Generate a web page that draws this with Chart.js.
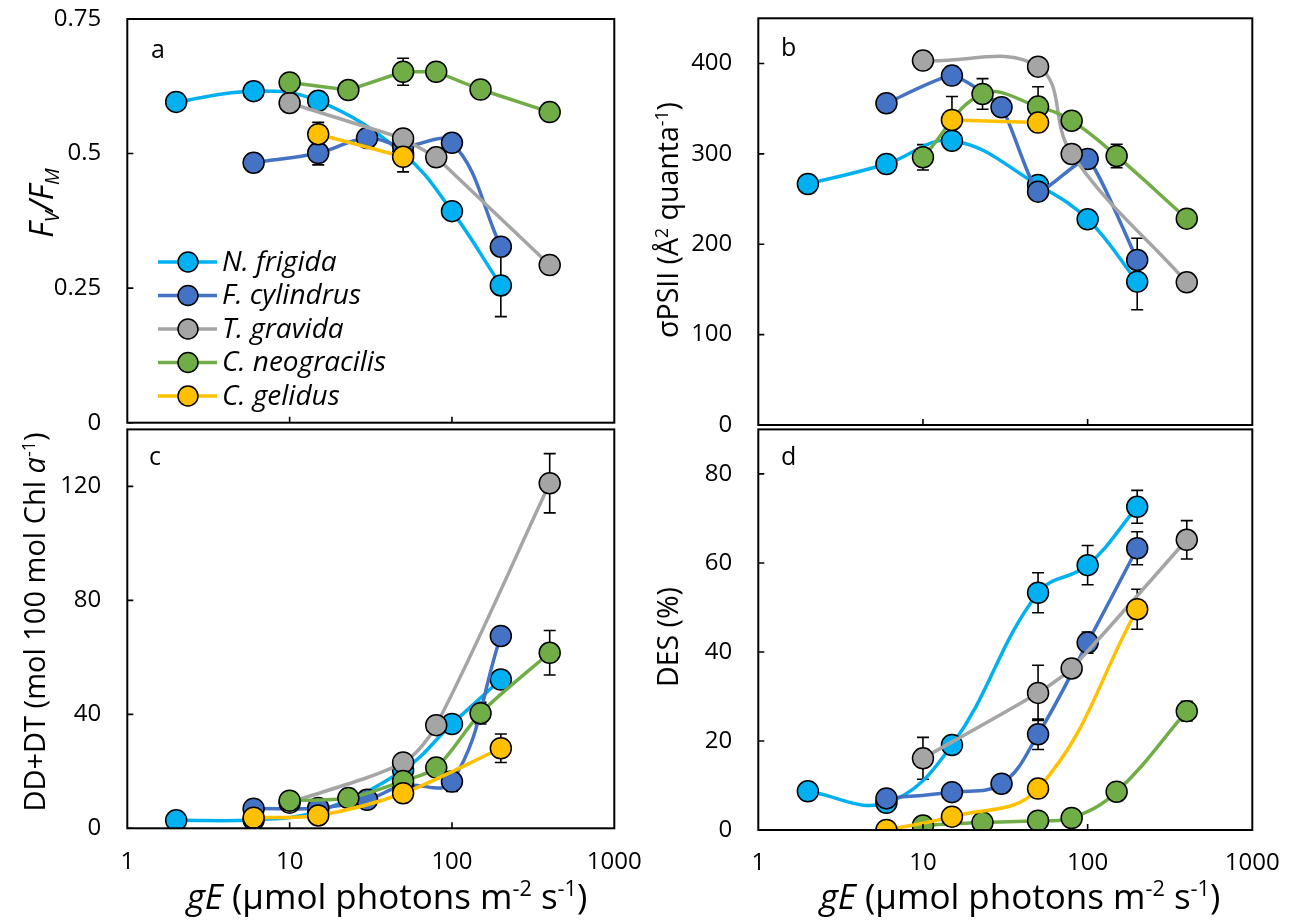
<!DOCTYPE html>
<html><head><meta charset="utf-8">
<script src="https://cdn.jsdelivr.net/npm/chart.js@4.4.0/dist/chart.umd.min.js"></script>
<style>
html,body{margin:0;padding:0;background:#fff;width:1291px;height:924px;overflow:hidden;}
canvas{position:absolute;}
</style></head><body>
<canvas id="ca" width="650" height="440" style="left:0;top:0"></canvas>
<canvas id="cb" width="641" height="440" style="left:650px;top:0"></canvas>
<canvas id="cc" width="650" height="509" style="left:0;top:415px"></canvas>
<canvas id="cd" width="641" height="509" style="left:650px;top:415px"></canvas>
<script>
// ---------- data ----------
const species = ['N. frigida', 'F. cylindrus', 'T. gravida', 'C. neogracilis', 'C. gelidus'];
const colors = ['#00B0F0', '#4472C4', '#A5A5A5', '#70AD47', '#FFC000'];

// light levels (gE, µmol photons m-2 s-1) per species
const lightNf = [2, 6, 15, 50, 100, 200];
const lightFc = [6, 15, 30, 50, 100, 200];
const lightTg = [10, 50, 80, 400];
const lightCn = [10, 23, 50, 80, 150, 400];
const lightCg = [6, 15, 50, 200];

// x-axis tick values and labelled ticks
const xTickVals = [1, 5, 10, 15, 20, 25, 30, 35, 40, 45, 100, 250, 500, 750, 1000];
const xLabelVals = [1, 10, 100, 1000];

// (a) Fv/Fm
const fvfmNf = [0.596, 0.616, 0.598, 0.500, 0.393, 0.255];
const fvfmFc = [0.483, 0.501, 0.529, 0.514, 0.520, 0.327];
const fvfmTg = [0.594, 0.528, 0.493, 0.293];
const fvfmCn = [0.632, 0.618, 0.652, 0.652, 0.619, 0.577];
const fvfmCg = [null, 0.536, 0.494, null];
const fvfmErrNf = [0, 0, 0, 0, 0, 0.058];
const fvfmErrFc = [0, 0.022, 0, 0, 0, 0];
const fvfmErrTg = [0, 0, 0, 0];
const fvfmErrCn = [0, 0, 0.025, 0, 0, 0];
const fvfmErrCg = [0, 0.022, 0.028, 0];

// (b) sigma PSII
const sigNf = [266.7, 288.8, 314.6, 265.6, 227.6, 158.6];
const sigFc = [356.0, 386.6, 351.5, 258.2, 294.3, 182.6];
const sigTg = [403.2, 396.5, 299.9, 157.9];
const sigCn = [296.2, 366.3, 352.3, 336.7, 297.7, 228.3];
const sigCg = [null, 337.5, 334.6, null];
const sigErrNf = [0, 0, 0, 0, 0, 31];
const sigErrFc = [0, 0, 0, 0, 0, 24];
const sigErrTg = [0, 0, 0, 0];
const sigErrCn = [14, 17, 22, 0, 13, 0];
const sigErrCg = [0, 26, 0, 0];

// (c) DD+DT
const ddtNf = [2.8, 3.0, 6.0, 20.4, 36.6, 52.2];
const ddtFc = [6.9, 7.1, 10.0, 15.0, 16.4, 67.5];
const ddtTg = [9.0, 23.1, 36.2, 121.1];
const ddtCn = [9.7, 10.6, 16.6, 21.3, 40.4, 61.6];
const ddtCg = [3.7, 4.5, 12.3, 28.1];
const ddtErrNf = [0, 0, 0, 0, 0, 0];
const ddtErrFc = [0, 0, 0, 0, 3.5, 0];
const ddtErrTg = [0, 0, 0, 10.4];
const ddtErrCn = [0, 0, 0, 0, 3.8, 7.8];
const ddtErrCg = [0, 0, 0, 5.0];

// (d) DES %
const desNf = [8.7, 6.1, 19.1, 53.3, 59.5, 72.6];
const desFc = [7.1, 8.5, 10.4, 21.5, 42.1, 63.3];
const desTg = [16.1, 30.8, 36.3, 65.2];
const desCn = [1.0, 1.7, 2.1, 2.7, 8.6, 26.7];
const desCg = [0.0, 3.0, 9.3, 49.6];
const desErrNf = [0, 0, 0, 4.5, 4.4, 3.7];
const desErrFc = [0, 0, 1.0, 3.4, 2.4, 3.7];
const desErrTg = [4.7, 6.2, 0, 4.3];
const desErrCn = [0, 0, 0, 0, 0, 2.2];
const desErrCg = [0, 0, 0, 4.5];

const lights = [lightNf, lightFc, lightTg, lightCn, lightCg];

// ---------- helpers ----------
const FONT = '"Open Sans", Lato, sans-serif';
Chart.defaults.font.family = FONT;
Chart.defaults.font.size = 24;
Chart.defaults.color = '#000';

function drawRich(ctx, segs, cx, cy, rot, size) {
  ctx.save();
  ctx.translate(cx, cy);
  ctx.rotate(rot);
  ctx.fillStyle = '#000';
  ctx.textBaseline = 'alphabetic';
  ctx.textAlign = 'left';
  const parts = segs.map(s => {
    const fs = (s.sup || s.sub) ? size * 0.62 : size;
    const font = (s.i ? 'italic ' : '') + fs + 'px ' + FONT;
    ctx.font = font;
    return {s, font, w: ctx.measureText(s.t).width};
  });
  const total = parts.reduce((a, p) => a + p.w, 0);
  let x = -total / 2;
  const base = size * 0.36;
  for (const p of parts) {
    ctx.font = p.font;
    const dy = p.s.sup ? -size * 0.36 : (p.s.sub ? size * 0.2 : 0);
    ctx.fillText(p.s.t, x, base + dy);
    x += p.w;
  }
  ctx.restore();
}

function deco(cfg) {
  return {
    id: 'deco',
    beforeDatasetsDraw(chart) {
      const ctx = chart.ctx, ys = chart.scales.y;
      ctx.save();
      ctx.strokeStyle = '#000';
      ctx.lineWidth = 1.6;
      chart.data.datasets.forEach((ds, i) => {
        const meta = chart.getDatasetMeta(i);
        ds.errors.forEach((e, j) => {
          const v = ds.data[j].y;
          if (!e || v === null) return;
          const x = meta.data[j].x;
          const y1 = ys.getPixelForValue(v + e), y2 = ys.getPixelForValue(v - e);
          ctx.beginPath();
          ctx.moveTo(x, y1); ctx.lineTo(x, y2);
          ctx.moveTo(x - 6, y1); ctx.lineTo(x + 6, y1);
          ctx.moveTo(x - 6, y2); ctx.lineTo(x + 6, y2);
          ctx.stroke();
        });
      });
      ctx.restore();
    },
    afterDraw(chart) {
      const ctx = chart.ctx, a = chart.chartArea, xs = chart.scales.x, ys = chart.scales.y;
      ctx.save();
      ctx.strokeStyle = '#000';
      ctx.lineWidth = 1.6;
      // inward tick marks
      ctx.beginPath();
      xs.ticks.forEach(t => {
        const px = xs.getPixelForValue(t.value);
        if (px <= a.left + 1 || px >= a.right - 1) return;
        ctx.moveTo(px, a.bottom); ctx.lineTo(px, a.bottom - 6);
      });
      ys.ticks.forEach(t => {
        const py = ys.getPixelForValue(t.value);
        if (py <= a.top + 1) return;
        ctx.moveTo(a.left, py); ctx.lineTo(a.left + 6, py);
      });
      ctx.stroke();
      // frame
      ctx.lineWidth = 2;
      ctx.strokeRect(a.left, a.top, a.right - a.left, a.bottom - a.top);
      // panel letter
      ctx.fillStyle = '#000';
      ctx.font = '25px ' + FONT;
      ctx.textBaseline = 'alphabetic';
      ctx.textAlign = 'left';
      ctx.fillText(cfg.letter, cfg.letterX, cfg.letterY);
      ctx.restore();
      // titles
      drawRich(ctx, cfg.yTitle, cfg.yTitleX, cfg.yTitleY, -Math.PI / 2, cfg.yTitleSize);
      if (cfg.xTitle) drawRich(ctx, cfg.xTitle, cfg.xTitleX, cfg.xTitleY, 0, 35);
      // legend
      if (cfg.legend) {
        ctx.save();
        species.forEach((name, i) => {
          const y = cfg.legendY[i];
          ctx.strokeStyle = colors[i];
          ctx.lineWidth = 3.5;
          ctx.beginPath(); ctx.moveTo(158, y); ctx.lineTo(217, y); ctx.stroke();
          ctx.beginPath(); ctx.arc(188, y, 10, 0, Math.PI * 2);
          ctx.fillStyle = colors[i]; ctx.fill();
          ctx.strokeStyle = '#000'; ctx.lineWidth = 1.5; ctx.stroke();
          ctx.fillStyle = '#000';
          ctx.font = 'italic 28px ' + FONT;
          ctx.textBaseline = 'middle';
          ctx.fillText(name, 222, y + 1);
        });
        ctx.restore();
      }
    }
  };
}

function makeChart(id, cfg) {
  const datasets = cfg.values.map((vals, i) => ({
    label: species[i],
    data: lights[i].map((x, j) => ({x: x, y: vals[j]})),
    errors: cfg.errors[i],
    borderColor: colors[i],
    backgroundColor: colors[i],
    pointBackgroundColor: colors[i],
    pointBorderColor: '#000',
    pointBorderWidth: 1.5,
    pointRadius: 10.5,
    borderWidth: 3.5,
    borderCapStyle: 'round',
    borderJoinStyle: 'round',
    tension: cfg.tension[i],
    order: 4 - i
  }));
  const yStep = cfg.yStep, yLab = cfg.yLabelStep;
  const hiddenTick = {display: true, drawOnChartArea: false, drawTicks: true, tickColor: 'rgba(0,0,0,0)'};
  return new Chart(document.getElementById(id), {
    type: 'line',
    data: {datasets},
    plugins: [deco(cfg)],
    options: {
      responsive: false,
      animation: false,
      devicePixelRatio: 1,
      events: [],
      layout: {padding: cfg.pad},
      plugins: {legend: {display: false}, tooltip: {enabled: false}},
      scales: {
        x: {
          type: 'logarithmic', min: 1, max: 1000,
          border: {display: false},
          grid: Object.assign({tickLength: 19}, hiddenTick),
          afterBuildTicks: s => { s.ticks = xTickVals.map(v => ({value: v})); },
          afterFit: s => { s.height = cfg.xH; },
          ticks: {
            display: cfg.showX, autoSkip: false, maxRotation: 0, padding: 0,
            callback: v => xLabelVals.includes(v) ? String(v) : null
          }
        },
        y: {
          type: 'linear', min: 0, max: cfg.yMax,
          border: {display: false},
          grid: Object.assign({tickLength: 26}, hiddenTick),
          afterFit: s => { s.width = cfg.yW; },
          ticks: {
            stepSize: yStep, autoSkip: false, padding: 0,
            callback: v => {
              const r = v / yLab;
              if (Math.abs(r - Math.round(r)) > 1e-6) return null;
              if (v > cfg.yLabelMax + 1e-9) return null;
              return String(Math.round(v * 1000) / 1000);
            }
          }
        }
      }
    }
  });
}

const xTitleSegs = [{t: 'gE', i: 1}, {t: ' (\u00b5mol photons m'}, {t: '-2', sup: 1}, {t: ' s'}, {t: '-1', sup: 1}, {t: ')'}];

makeChart('ca', {
  values: [fvfmNf, fvfmFc, fvfmTg, fvfmCn, fvfmCg],
  errors: [fvfmErrNf, fvfmErrFc, fvfmErrTg, fvfmErrCn, fvfmErrCg],
  tension: [0.4, 0.4, 0, 0, 0],
  yMax: 0.75, yStep: 0.125, yLabelStep: 0.25, yLabelMax: 0.75,
  yW: 127.3, xH: 17.3, pad: {top: 19, right: 35.7, bottom: 0, left: 0},
  showX: false,
  letter: 'a', letterX: 151, letterY: 58,
  yTitle: [{t: 'F', i: 1}, {t: 'V', i: 1, sub: 1}, {t: '/', i: 1}, {t: 'F', i: 1}, {t: 'M', i: 1, sub: 1}],
  yTitleX: 41, yTitleY: 203, yTitleSize: 32,
  legend: true, legendY: [262, 295.5, 329, 362.5, 396]
});
makeChart('cb', {
  values: [sigNf, sigFc, sigTg, sigCn, sigCg],
  errors: [sigErrNf, sigErrFc, sigErrTg, sigErrCn, sigErrCg],
  tension: [0.4, 0.15, 0.4, 0.4, 0],
  yMax: 450, yStep: 50, yLabelStep: 100, yLabelMax: 400,
  yW: 108.3, xH: 15, pad: {top: 18.3, right: 38.7, bottom: 0, left: 0},
  showX: false,
  letter: 'b', letterX: 131, letterY: 56,
  yTitle: [{t: '\u03c3PSII (\u00c5'}, {t: '2', sup: 1}, {t: ' quanta'}, {t: '-1', sup: 1}, {t: ')'}],
  yTitleX: 18, yTitleY: 220, yTitleSize: 28.5
});
makeChart('cc', {
  values: [ddtNf, ddtFc, ddtTg, ddtCn, ddtCg],
  errors: [ddtErrNf, ddtErrFc, ddtErrTg, ddtErrCn, ddtErrCg],
  tension: [0.4, 0.4, 0.3, 0.3, 0.3],
  yMax: 140, yStep: 20, yLabelStep: 40, yLabelMax: 120,
  yW: 127.3, xH: 95.7, pad: {top: 8, right: 35.7, bottom: 0, left: 0},
  showX: true,
  letter: 'c', letterX: 149, letterY: 50,
  yTitle: [{t: 'DD+DT (mol 100 mol Chl '}, {t: 'a', i: 1}, {t: '-1', sup: 1}, {t: ')'}],
  yTitleX: 35, yTitleY: 207, yTitleSize: 29,
  xTitle: xTitleSegs, xTitleX: 387, xTitleY: 481
});
makeChart('cd', {
  values: [desNf, desFc, desTg, desCn, desCg],
  errors: [desErrNf, desErrFc, desErrTg, desErrCn, desErrCg],
  tension: [0.4, 0.4, 0.2, 0.4, 0.4],
  yMax: 90, yStep: 10, yLabelStep: 20, yLabelMax: 80,
  yW: 108.3, xH: 94, pad: {top: 10, right: 38.7, bottom: 0, left: 0},
  showX: true,
  letter: 'd', letterX: 131, letterY: 50,
  yTitle: [{t: 'DES (%)'}],
  yTitleX: 18, yTitleY: 222, yTitleSize: 28.5,
  xTitle: xTitleSegs, xTitleX: 370, xTitleY: 481
});
</script>
</body></html>
